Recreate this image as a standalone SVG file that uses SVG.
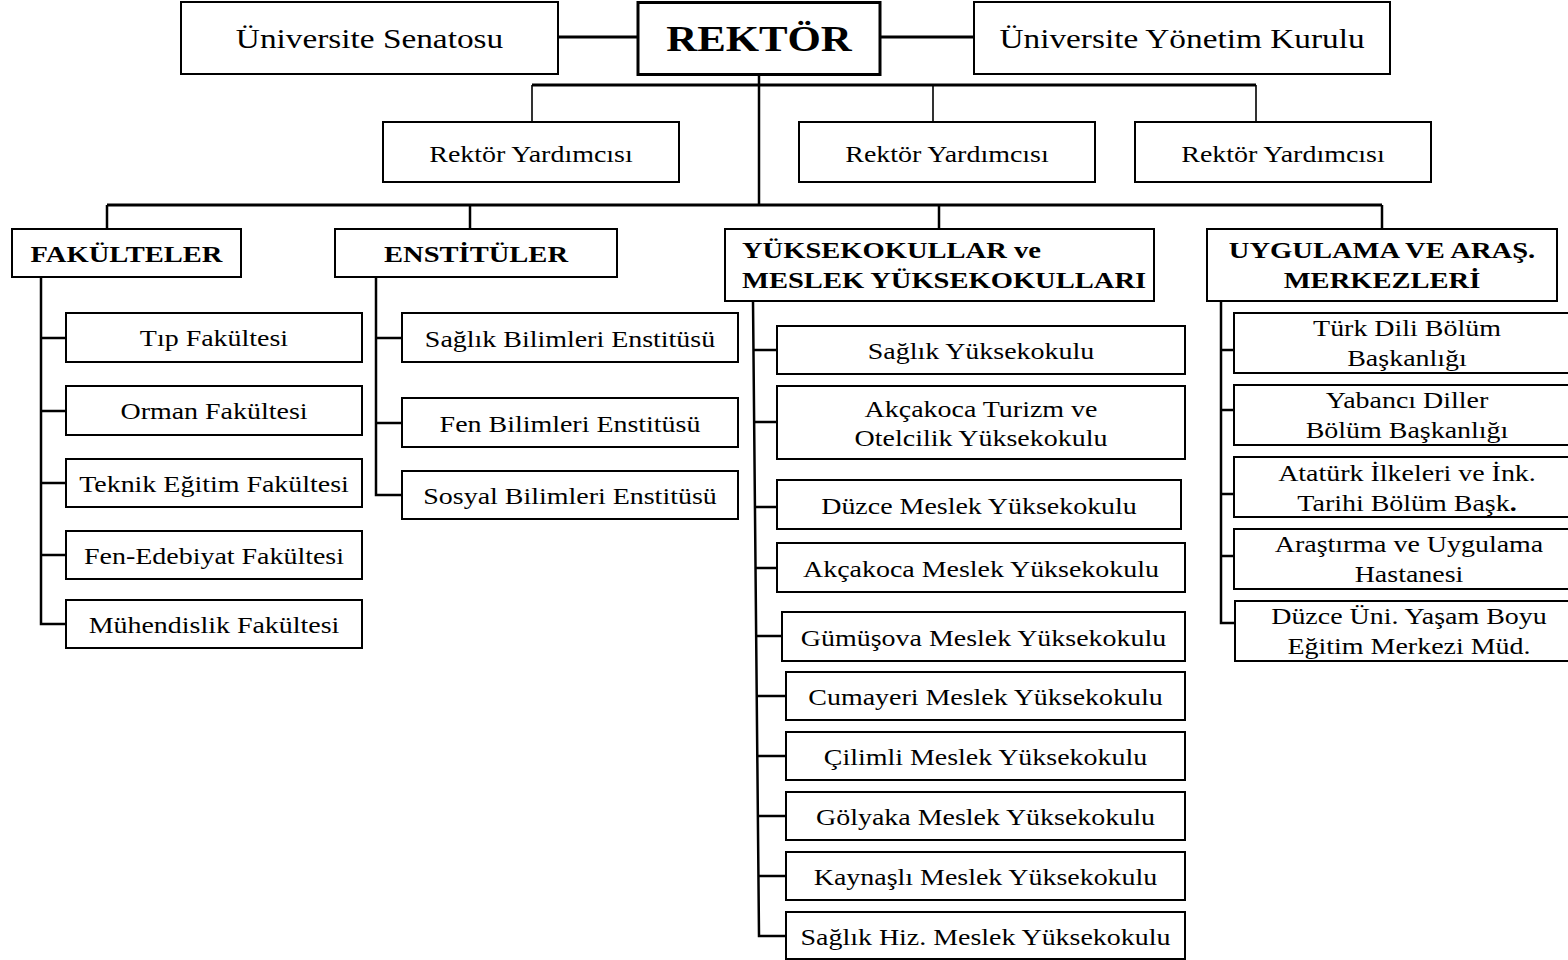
<svg xmlns="http://www.w3.org/2000/svg" width="1568" height="960" viewBox="0 0 1568 960">
<style>
.b{fill:#fff;stroke:#000;stroke-width:2}
.bk{fill:#fff;stroke:#000;stroke-width:3}
.t{font-family:"Liberation Serif","Times New Roman",serif;font-size:23.5px;fill:#000;text-anchor:middle}
.tl{font-family:"Liberation Serif","Times New Roman",serif;font-size:28px;fill:#000;text-anchor:middle}
.h{font-family:"Liberation Serif","Times New Roman",serif;font-size:24px;font-weight:bold;fill:#000;text-anchor:middle}
.hs{font-family:"Liberation Serif","Times New Roman",serif;font-size:24px;font-weight:bold;fill:#000;text-anchor:start}
.r{font-family:"Liberation Serif","Times New Roman",serif;font-size:36px;font-weight:bold;fill:#000;text-anchor:middle}
.c{fill:none;stroke:#000;stroke-width:2.5}
.cb{fill:none;stroke:#000;stroke-width:3}
.cn{fill:none;stroke:#000;stroke-width:1.6}
</style>
<rect width="1568" height="960" fill="#fff"/>
<g id="connectors">
<path class="cb" d="M558 37H638M880 37H974"/>
<path class="c" d="M759 74V205"/>
<path class="cb" d="M532 85H1256"/>
<path class="cn" d="M532 85V122M933 85V122M1256 85V122"/>
<path class="cb" d="M107 205H1382"/>
<path class="c" d="M107 205V229M470 205V229M939 205V229M1382 205V229"/>
<path class="c" d="M41 277V624H66M41 338H66M41 411H66M41 483H66M41 555H66"/>
<path class="c" d="M376 277V495H402M376 338H402M376 423H402"/>
<path class="c" d="M753 301L759 936H786M753.5 350H777M754.1 422H777M755 507H777M755.5 568H777M756.2 636H782M756.7 696H786M757.3 756H786M757.9 816H786M758.4 876H786"/>
<path class="c" d="M1221 301V623H1235M1221 350H1234M1221 410H1234M1221 494H1234M1221 556H1234"/>
</g>
<g id="senato"><rect class="b" x="181" y="2" width="377" height="72"/><text class="tl" transform="translate(369.5 48) scale(1.19 1)">Üniversite Senatosu</text></g>
<g id="rektor"><rect class="bk" x="638" y="2.5" width="242" height="72"/><text class="r" transform="translate(759 51) scale(1.19 1)">REKTÖR</text></g>
<g id="yonetim"><rect class="b" x="974" y="2" width="416" height="72"/><text class="tl" transform="translate(1182 48) scale(1.19 1)">Üniversite Yönetim Kurulu</text></g>
<g id="ry1"><rect class="b" x="383" y="122" width="296" height="60"/><text class="t" transform="translate(531 162) scale(1.19 1)">Rektör Yardımcısı</text></g>
<g id="ry2"><rect class="b" x="799" y="122" width="296" height="60"/><text class="t" transform="translate(947 162) scale(1.19 1)">Rektör Yardımcısı</text></g>
<g id="ry3"><rect class="b" x="1135" y="122" width="296" height="60"/><text class="t" transform="translate(1283 162) scale(1.19 1)">Rektör Yardımcısı</text></g>
<g id="fakulteler"><rect class="b" x="12" y="229" width="229" height="48"/><text class="h" transform="translate(126.5 262) scale(1.19 1)">FAKÜLTELER</text></g>
<g id="enstituler"><rect class="b" x="335" y="229" width="282" height="48"/><text class="h" transform="translate(476 262) scale(1.19 1)">ENSTİTÜLER</text></g>
<g id="yuksekokullar"><rect class="b" x="725" y="229" width="429" height="72"/><text class="hs" transform="translate(742 258) scale(1.19 1)"><tspan x="0" y="0">YÜKSEKOKULLAR ve</tspan><tspan x="0" y="30">MESLEK YÜKSEKOKULLARI</tspan></text></g>
<g id="uygulama"><rect class="b" x="1207" y="229" width="350" height="72"/><text class="h" transform="translate(1382 258) scale(1.19 1)"><tspan x="0" y="0">UYGULAMA VE ARAŞ.</tspan><tspan x="0" y="30">MERKEZLERİ</tspan></text></g>
<g id="tip"><rect class="b" x="66" y="313" width="296" height="49"/><text class="t" transform="translate(214 346) scale(1.19 1)">Tıp Fakültesi</text></g>
<g id="orman"><rect class="b" x="66" y="386" width="296" height="49"/><text class="t" transform="translate(214 419) scale(1.19 1)">Orman Fakültesi</text></g>
<g id="teknik"><rect class="b" x="66" y="459" width="296" height="48"/><text class="t" transform="translate(214 492) scale(1.19 1)">Teknik Eğitim Fakültesi</text></g>
<g id="fenedebiyat"><rect class="b" x="66" y="531" width="296" height="48"/><text class="t" transform="translate(214 564) scale(1.19 1)">Fen-Edebiyat Fakültesi</text></g>
<g id="muhendislik"><rect class="b" x="66" y="600" width="296" height="48"/><text class="t" transform="translate(214 633) scale(1.19 1)">Mühendislik Fakültesi</text></g>
<g id="saglikbil"><rect class="b" x="402" y="313" width="336" height="49"/><text class="t" transform="translate(570 346.5) scale(1.19 1)">Sağlık Bilimleri Enstitüsü</text></g>
<g id="fenbil"><rect class="b" x="402" y="398" width="336" height="49"/><text class="t" transform="translate(570 431.5) scale(1.19 1)">Fen Bilimleri Enstitüsü</text></g>
<g id="sosyalbil"><rect class="b" x="402" y="471" width="336" height="48"/><text class="t" transform="translate(570 504) scale(1.19 1)">Sosyal Bilimleri Enstitüsü</text></g>
<g id="saglikyo"><rect class="b" x="777" y="326" width="408" height="48"/><text class="t" transform="translate(981 359) scale(1.19 1)">Sağlık Yüksekokulu</text></g>
<g id="akcakocaturizm"><rect class="b" x="777" y="386" width="408" height="73"/><text class="t" transform="translate(981 417) scale(1.19 1)"><tspan x="0" y="0">Akçakoca Turizm ve</tspan><tspan x="0" y="29">Otelcilik Yüksekokulu</tspan></text></g>
<g id="duzcemyo"><rect class="b" x="777" y="480" width="404" height="49"/><text class="t" transform="translate(979 513.5) scale(1.19 1)">Düzce Meslek Yüksekokulu</text></g>
<g id="akcakocamyo"><rect class="b" x="777" y="543" width="408" height="49"/><text class="t" transform="translate(981 576.5) scale(1.19 1)">Akçakoca Meslek Yüksekokulu</text></g>
<g id="gumusova"><rect class="b" x="782" y="612" width="403" height="49"/><text class="t" transform="translate(983.5 645.5) scale(1.19 1)">Gümüşova Meslek Yüksekokulu</text></g>
<g id="cumayeri"><rect class="b" x="786" y="672" width="399" height="48"/><text class="t" transform="translate(985.5 705) scale(1.19 1)">Cumayeri Meslek Yüksekokulu</text></g>
<g id="cilimli"><rect class="b" x="786" y="732" width="399" height="48"/><text class="t" transform="translate(985.5 765) scale(1.19 1)">Çilimli Meslek Yüksekokulu</text></g>
<g id="golyaka"><rect class="b" x="786" y="792" width="399" height="48"/><text class="t" transform="translate(985.5 825) scale(1.19 1)">Gölyaka Meslek Yüksekokulu</text></g>
<g id="kaynasli"><rect class="b" x="786" y="852" width="399" height="48"/><text class="t" transform="translate(985.5 885) scale(1.19 1)">Kaynaşlı Meslek Yüksekokulu</text></g>
<g id="saglikhiz"><rect class="b" x="786" y="912" width="399" height="47"/><text class="t" transform="translate(985.5 944.5) scale(1.19 1)">Sağlık Hiz. Meslek Yüksekokulu</text></g>
<g id="turkdili"><rect class="b" x="1234" y="313" width="346" height="60"/><text class="t" transform="translate(1407 336) scale(1.19 1)"><tspan x="0" y="0">Türk Dili Bölüm</tspan><tspan x="0" y="30">Başkanlığı</tspan></text></g>
<g id="yabancidiller"><rect class="b" x="1234" y="385" width="346" height="60"/><text class="t" transform="translate(1407 408) scale(1.19 1)"><tspan x="0" y="0">Yabancı Diller</tspan><tspan x="0" y="30">Bölüm Başkanlığı</tspan></text></g>
<g id="ataturk"><rect class="b" x="1234" y="457" width="346" height="60"/><text class="t" transform="translate(1407 481) scale(1.19 1)"><tspan x="0" y="0">Atatürk İlkeleri ve İnk.</tspan><tspan x="0" y="30">Tarihi Bölüm Başk<tspan font-weight="bold">.</tspan></tspan></text></g>
<g id="hastane"><rect class="b" x="1234" y="529" width="346" height="60"/><text class="t" transform="translate(1409 552) scale(1.19 1)"><tspan x="0" y="0">Araştırma ve Uygulama</tspan><tspan x="0" y="30">Hastanesi</tspan></text></g>
<g id="yasamboyu"><rect class="b" x="1235" y="601" width="346" height="60"/><text class="t" transform="translate(1409 624) scale(1.19 1)"><tspan x="0" y="0">Düzce Üni. Yaşam Boyu</tspan><tspan x="0" y="30">Eğitim Merkezi Müd.</tspan></text></g>
</svg>
